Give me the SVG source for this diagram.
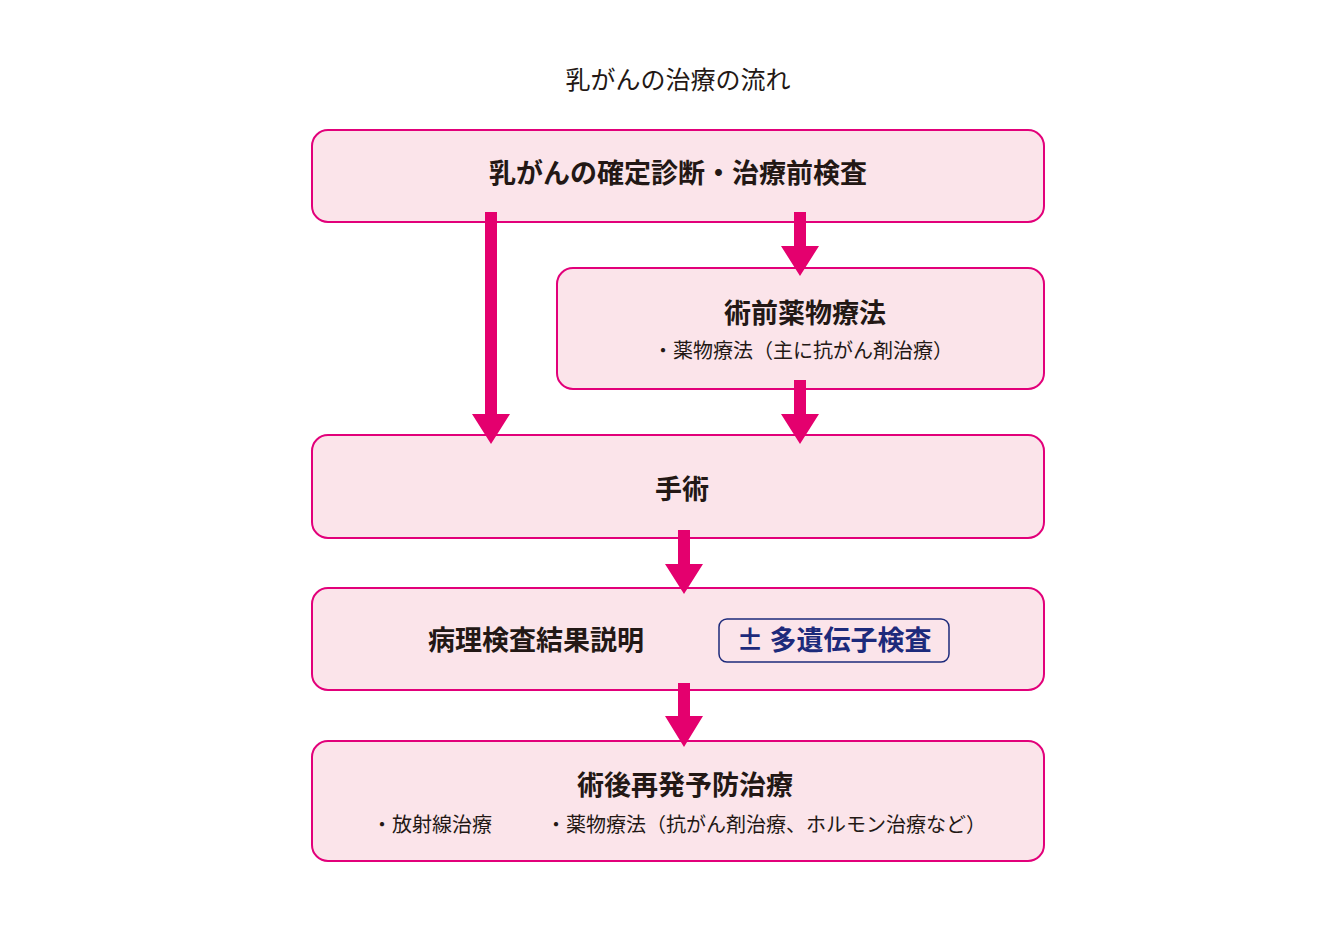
<svg xmlns="http://www.w3.org/2000/svg" width="1330" height="927" viewBox="0 0 1330 927">
<style>
.box{fill:#FBE4EA;stroke:#E2007A;stroke-width:2}
text{font-family:"Noto Sans CJK JP","Noto Sans",sans-serif;fill:#231815;text-anchor:middle}
.h{font-size:27px;font-weight:bold}
.s{font-size:20px}
.arr{fill:#E4006E}
</style>
<rect width="1330" height="927" fill="#fff"/>
<text x="678" y="89" font-size="25">乳がんの治療の流れ</text>
<g id="n1"><rect class="box" x="312" y="130" width="732" height="92" rx="16"/><text class="h" x="678" y="183">乳がんの確定診断・治療前検査</text></g>
<g id="n2"><rect class="box" x="557" y="268" width="487" height="121" rx="16"/><text class="h" x="805" y="323">術前薬物療法</text><text class="s" x="803" y="358">・薬物療法（主に抗がん剤治療）</text></g>
<g id="n3"><rect class="box" x="312" y="435" width="732" height="103" rx="16"/><text class="h" x="682" y="499">手術</text></g>
<g id="n4"><rect class="box" x="312" y="588" width="732" height="102" rx="16"/><text class="h" x="536" y="650">病理検査結果説明</text>
<g id="n4b"><rect x="719" y="619" width="230" height="43" rx="8" fill="none" stroke="#1D2A7B" stroke-width="1.5"/><text class="h" x="834" y="650" style="fill:#1D2A7B">± 多遺伝子検査</text></g></g>
<g id="n5"><rect class="box" x="312" y="741" width="732" height="120" rx="16"/><text class="h" x="685" y="795">術後再発予防治療</text><text class="s" x="432" y="832">・放射線治療</text><text class="s" x="766" y="832">・薬物療法（抗がん剤治療、ホルモン治療など）</text></g>
<g id="connectors" class="arr">
<polygon points="485,212 497,212 497,414 510,414 491,444 472,414 485,414"/>
<polygon points="794,212 806,212 806,246 819,246 800,276 781,246 794,246"/>
<polygon points="794,380 806,380 806,414 819,414 800,444 781,414 794,414"/>
<polygon points="678,530 690,530 690,564 703,564 684,594 665,564 678,564"/>
<polygon points="678,683 690,683 690,716 703,716 684,747 665,716 678,716"/>
</g>
</svg>
